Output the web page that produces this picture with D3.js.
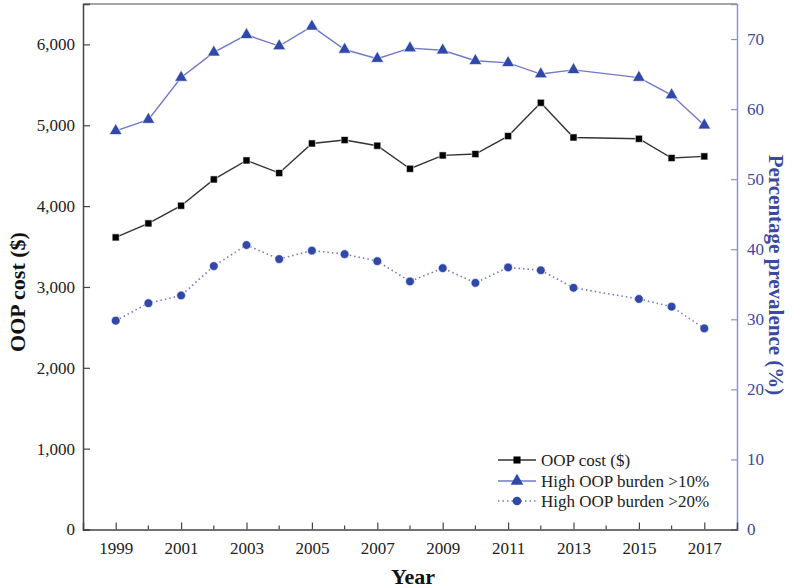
<!DOCTYPE html>
<html><head><meta charset="utf-8">
<script src="https://cdn.jsdelivr.net/npm/d3@7"></script>
<style>body{margin:0;background:#fff}svg{display:block}svg text{font-family:"Liberation Serif","Times New Roman",Times,serif !important}</style>
</head><body><div id="c"></div>
<script>
const years = [1999,2000,2001,2002,2003,2004,2005,2006,2007,2008,2009,2010,2011,2012,2013,2015,2016,2017];
const oopCost = [3613,3786,4005,4330,4565,4409,4775,4817,4747,4462,4627,4644,4866,5278,4849,4833,4595,4615];
const burden10 = [56.9,58.5,64.5,68.1,70.6,69.0,71.8,68.5,67.2,68.7,68.4,66.9,66.6,65.0,65.6,64.5,62.0,57.7];
const burden20 = [29.8,32.3,33.4,37.6,40.6,38.6,39.8,39.3,38.3,35.4,37.3,35.2,37.4,37.0,34.5,32.9,31.8,28.7];
const leftTicks = [0,1000,2000,3000,4000,5000,6000];
const rightTicks = [0,10,20,30,40,50,60,70];
const xMajor = [1999,2001,2003,2005,2007,2009,2011,2013,2015,2017];
const xMinor = [2000,2002,2004,2006,2008,2010,2012,2014,2016];
const legendLabels = ["OOP cost ($)","High OOP burden >10%","High OOP burden >20%"];

const FONT='"Liberation Serif","Times New Roman",Times,serif';
const W=792,H=588;
const L=83,R=737,T=4,B=529.5;
const svg=d3.select("#c").append("svg").attr("width",W).attr("height",H).attr("font-family",FONT);
const x=d3.scaleLinear().domain([1998,2018]).range([L,R]);
const yL=d3.scaleLinear().domain([0,6500]).range([B,T]);
const yR=d3.scaleLinear().domain([0,75]).range([B,T]);

const axisCol="#444", blueAxis="#8c92d4", blueTxt="#3b49a3", lineBlue="#6f78cc", markBlue="#3048a8";

svg.append("line").attr("x1",L).attr("x2",R).attr("y1",T).attr("y2",T).attr("stroke","#888").attr("stroke-width",1.5);

const gl=svg.append("g").attr("transform",`translate(${L},0)`)
  .call(d3.axisLeft(yL).tickValues(leftTicks).tickSize(-7).tickPadding(10).tickFormat(d3.format(",")));
gl.attr("font-family",FONT);
gl.select(".domain").attr("stroke",axisCol).attr("stroke-width",1.5);
gl.selectAll(".tick line").attr("stroke",axisCol).attr("stroke-width",1.2);
gl.selectAll("text").attr("font-size",17).attr("fill","#222").attr("x",-8);

const gr=svg.append("g").attr("transform",`translate(${R},0)`)
  .call(d3.axisRight(yR).tickValues(rightTicks).tickSize(-6).tickPadding(12));
gr.attr("font-family",FONT);
gr.select(".domain").attr("stroke",blueAxis).attr("stroke-width",1.5);
gr.selectAll(".tick line").attr("stroke",blueAxis).attr("stroke-width",1.2);
gr.selectAll("text").attr("font-size",17).attr("fill",blueTxt).attr("x",10);

const gb=svg.append("g").attr("transform",`translate(0,${B})`)
  .call(d3.axisBottom(x).tickValues(xMajor).tickSize(-7).tickPadding(12).tickFormat(d3.format("d")));
gb.attr("font-family",FONT);
gb.select(".domain").attr("stroke",axisCol).attr("stroke-width",1.5);
gb.selectAll(".tick line").attr("stroke",axisCol).attr("stroke-width",1.2);
gb.selectAll("text").attr("font-size",17).attr("fill","#222").attr("y",12);
svg.append("g").selectAll("line").data(xMinor).join("line")
  .attr("x1",d=>x(d)).attr("x2",d=>x(d)).attr("y1",B).attr("y2",B-4)
  .attr("stroke",axisCol).attr("stroke-width",1.2);

svg.append("text").attr("x",413).attr("y",584).attr("text-anchor","middle")
  .attr("font-size",22).attr("font-weight","bold").attr("fill","#111").text("Year");
svg.append("text").attr("transform","translate(25,292) rotate(-90)").attr("text-anchor","middle")
  .attr("font-size",22).attr("font-weight","bold").attr("fill","#111").text("OOP cost ($)");
svg.append("text").attr("transform","translate(769,275) rotate(90)").attr("text-anchor","middle")
  .attr("font-size",21).attr("font-weight","bold").attr("fill",blueTxt).text("Percentage prevalence (%)");

const idx=d3.range(years.length);
const lineL=d3.line().x(i=>x(years[i])).y(i=>yL(oopCost[i]));
const line10=d3.line().x(i=>x(years[i])).y(i=>yR(burden10[i]));
const line20=d3.line().x(i=>x(years[i])).y(i=>yR(burden20[i]));
svg.append("path").attr("d",line10(idx)).attr("fill","none").attr("stroke",lineBlue).attr("stroke-width",1.4);
svg.append("path").attr("d",lineL(idx)).attr("fill","none").attr("stroke","#333").attr("stroke-width",1.4);
svg.append("path").attr("d",line20(idx)).attr("fill","none").attr("stroke",lineBlue).attr("stroke-width",1.6).attr("stroke-dasharray","1.5,3");

const tri=d3.symbol().type(d3.symbolTriangle).size(70);
const sq=d3.symbol().type(d3.symbolSquare).size(50);
const circ=d3.symbol().type(d3.symbolCircle).size(60);
svg.append("g").selectAll("path").data(idx).join("path")
  .attr("d",tri()).attr("transform",i=>`translate(${x(years[i])},${yR(burden10[i])})`)
  .attr("fill",markBlue).attr("stroke","#fff").attr("stroke-width",0.6);
svg.append("g").selectAll("path").data(idx).join("path")
  .attr("d",sq()).attr("transform",i=>`translate(${x(years[i])},${yL(oopCost[i])})`)
  .attr("fill","#000").attr("stroke","#fff").attr("stroke-width",0.6);
svg.append("g").selectAll("path").data(idx).join("path")
  .attr("d",circ()).attr("transform",i=>`translate(${x(years[i])},${yR(burden20[i])})`)
  .attr("fill",markBlue).attr("stroke","#fff").attr("stroke-width",0.6);

const lg=svg.append("g");
const rowsY=[460,481,501];
const styles=[{s:"#333",d:null,m:sq},{s:lineBlue,d:null,m:tri},{s:lineBlue,d:"1.5,3",m:circ}];
const mcol=["#000",markBlue,markBlue];
legendLabels.forEach((t,i)=>{
  lg.append("line").attr("x1",498).attr("x2",536).attr("y1",rowsY[i]).attr("y2",rowsY[i])
    .attr("stroke",styles[i].s).attr("stroke-width",1.4).attr("stroke-dasharray",styles[i].d);
  lg.append("path").attr("d",styles[i].m()).attr("transform",`translate(517,${rowsY[i]})`).attr("fill",mcol[i]);
  lg.append("text").attr("x",541).attr("y",rowsY[i]+5.5).attr("font-size",17).attr("fill","#222").text(t);
});
</script></body></html>
